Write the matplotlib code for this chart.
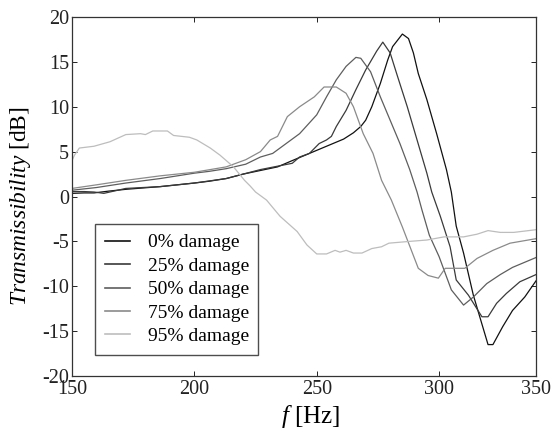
import numpy as np
import matplotlib.pyplot as plt

plt.rcParams['font.family'] = ['Liberation Serif', 'DejaVu Serif']
plt.rcParams['mathtext.fontset'] = 'custom'
plt.rcParams['mathtext.rm'] = 'Liberation Serif'
plt.rcParams['mathtext.it'] = 'Liberation Serif:italic'
plt.rcParams['axes.unicode_minus'] = False

# dados (f em Hz, T em dB)
f0 = [150, 155, 159, 165, 172, 186, 200, 206, 213, 220, 227, 234, 240, 247, 254, 261, 265, 268, 270,
      272.5, 276, 279, 281, 285, 287.5, 289.5, 291.5, 295, 299, 303, 305, 307, 310, 314, 320, 322,
      326, 330, 335, 339.6]
T0 = [0.35, 0.4, 0.4, 0.6, 0.8, 1.1, 1.5, 1.7, 2.0, 2.5, 2.9, 3.3, 4.0, 4.8, 5.6, 6.4, 7.1, 7.8, 8.5,
      10.0, 12.6, 15.2, 16.7, 18.1, 17.6, 16.0, 13.7, 10.8, 7.0, 3.0, 0.5, -3.3, -6.3, -11.0, -16.5, -16.5,
      -14.5, -12.7, -11.2, -9.4]

f25 = [150, 155, 159, 163, 172, 186, 200, 213, 227, 240, 243, 247, 251, 254, 256, 258, 262, 266, 270,
       274.5, 277, 280, 283, 287, 291, 295, 297, 300.5, 304.5, 307, 312, 317.5, 320, 323.5, 327.5, 333, 339.6]
T25 = [0.55, 0.55, 0.5, 0.35, 0.9, 1.1, 1.5, 2.0, 3.0, 3.7, 4.4, 4.8, 5.9, 6.3, 6.7, 7.8, 9.6, 11.9, 14.1,
       16.2, 17.2, 16.0, 13.4, 10.0, 6.3, 2.6, 0.5, -2.2, -5.6, -9.3, -11.0, -13.4, -13.4, -11.9, -10.8, -9.5, -8.7]

f50 = [150, 160, 172, 186, 200, 206, 213, 221, 227, 232, 237.5, 243, 247, 250, 254, 258, 262, 266, 268,
       272, 276, 280, 284, 288, 291, 293, 296, 300, 305, 310, 314, 319.5, 325, 330, 339.6]
T50 = [0.7, 1.0, 1.5, 2.0, 2.6, 2.8, 3.1, 3.6, 4.4, 4.8, 5.9, 7.0, 8.2, 9.1, 11.1, 13.0, 14.5, 15.5, 15.4,
       13.9, 11.1, 8.5, 5.9, 3.0, 0.5, -1.5, -4.3, -6.7, -10.4, -12.1, -11.2, -9.7, -8.7, -7.9, -6.8]

f75 = [150, 160, 172, 186, 200, 213, 221, 227, 231, 234, 238, 243, 249, 253, 258, 262, 265, 269, 273,
       276.5, 280.5, 285, 291.5, 295.5, 299.7, 302.5, 306, 310.5, 315.5, 322, 329, 339.6]
T75 = [0.9, 1.3, 1.8, 2.3, 2.7, 3.3, 4.1, 5.0, 6.3, 6.7, 8.9, 10.0, 11.1, 12.2, 12.2, 11.5, 10.0, 7.0, 4.8,
       1.8, -0.4, -3.4, -8.0, -8.8, -9.1, -8.0, -8.0, -8.0, -6.9, -6.0, -5.2, -4.7]

f95 = [150, 151, 153, 159, 165.5, 172, 178, 180, 183, 189, 191.5, 198, 201, 206.5, 210.5, 216, 220.5,
       222.7, 225, 229.5, 235, 242, 246, 250, 254, 257.5, 259.5, 262, 265, 268.5, 272.5, 276.5, 279.5,
       288, 295, 302, 310, 315.5, 320, 325, 330.5, 339.6]
T95 = [4.0, 4.6, 5.4, 5.6, 6.1, 6.9, 7.0, 6.9, 7.3, 7.3, 6.8, 6.6, 6.3, 5.4, 4.6, 3.3, 1.8,
       1.2, 0.5, -0.4, -2.2, -3.9, -5.4, -6.4, -6.4, -6.0, -6.2, -6.0, -6.3, -6.3, -5.8, -5.6, -5.2,
       -5.0, -4.85, -4.5, -4.5, -4.2, -3.8, -4.0, -4.0, -3.7]

rotulos = ['0% damage', '25% damage', '50% damage', '75% damage', '95% damage']
cores = ['#111111', '#3a3a3a', '#5e5e5e', '#8a8a8a', '#bdbdbd']

# o eixo da figura original termina em ~340 Hz, mas o ultimo rotulo diz 350
xticks = [150, 200, 250, 300, 339.6]
xticklabels = ['150', '200', '250', '300', '350']
yticks = np.arange(-20, 21, 5)

fig = plt.figure(figsize=(5.52, 4.30), dpi=100)
ax = fig.add_axes([72/552, 54/430, 464/552, 359/430])

series = [(f0, T0), (f25, T25), (f50, T50), (f75, T75), (f95, T95)]
for (f, T), rot, cor in zip(series, rotulos, cores):
    ax.plot(f, T, color=cor, lw=0.9, label=rot)

ax.set_xlim(150, 339.6)
ax.set_ylim(-20, 20)
ax.set_xticks(xticks)
ax.set_xticklabels(xticklabels)
ax.set_yticks(yticks)
ax.tick_params(direction='in', length=3.5, width=0.7, top=True, right=True,
               labelsize=14.5, pad=2, colors='#222222')
ax.tick_params(axis='x', pad=3)
for s in ax.spines.values():
    s.set_color('#333333')
    s.set_linewidth(0.9)

ax.set_xlabel(r'$\mathit{f}$ [Hz]', fontsize=18, labelpad=1)
ax.xaxis.set_label_coords(0.515, -0.075)
ax.set_ylabel(r'$\mathit{Transmissibility}$ [dB]', fontsize=16.8)
ax.yaxis.set_label_coords(-0.083, 0.4735)

leg = ax.legend(loc='upper left', bbox_to_anchor=(0.0496, 0.423), fontsize=14,
                fancybox=False, frameon=True, handlelength=1.3, handletextpad=0.9,
                labelspacing=0.3, borderpad=0.5, borderaxespad=0)
leg.get_frame().set_edgecolor('#222222')
leg.get_frame().set_linewidth(1.0)
for l in leg.get_lines():
    l.set_linewidth(1.2)

fig.savefig('out.png', dpi=100)
